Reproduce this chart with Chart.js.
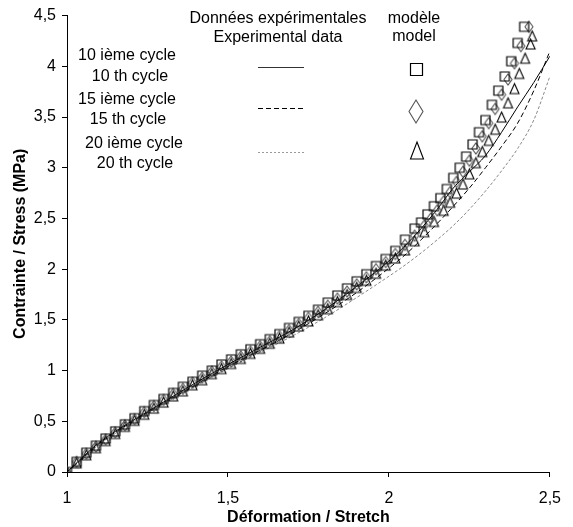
<!DOCTYPE html>
<html><head><meta charset="utf-8">
<script src="https://cdn.jsdelivr.net/npm/chart.js@4"></script>
<style>html,body{margin:0;padding:0;background:#fff}#wrap{width:573px;height:527px}</style>
</head><body><div id="wrap"><canvas id="c" width="573" height="527"></canvas></div>
<script>
// ---------- data ----------
const xTickLabels = ['1', '1,5', '2', '2,5'];
const yTickLabels = ['0', '0,5', '1', '1,5', '2', '2,5', '3', '3,5', '4', '4,5'];

const headerExp = ['Données expérimentales', 'Experimental data'];
const headerModel = ['modèle', 'model'];
const cycleLabelsFr = ['10 ième cycle', '15 ième cycle', '20 ième cycle'];
const cycleLabelsEn = ['10 th cycle', '15 th cycle', '20 th cycle'];

// model, 10th cycle (squares)
const model10X = [1.00,1.03,1.06,1.09,1.12,1.15,1.18,1.21,1.24,1.27,1.30,1.33,1.36,1.39,1.42,1.45,1.48,1.51,1.54,1.57,1.60,1.63,1.66,1.69,1.72,1.75,1.78,1.81,1.84,1.87,1.90,1.93,1.96,1.99,2.02,2.05,2.08,2.10,2.12,2.14,2.16,2.18,2.20,2.22,2.24,2.26,2.28,2.30,2.32,2.34,2.36,2.38,2.40,2.42];
const model10Y = [0.00,0.10,0.19,0.26,0.33,0.40,0.47,0.53,0.60,0.66,0.72,0.78,0.84,0.89,0.95,1.00,1.06,1.11,1.16,1.21,1.26,1.31,1.36,1.42,1.48,1.54,1.60,1.67,1.74,1.81,1.88,1.95,2.03,2.10,2.18,2.29,2.40,2.46,2.54,2.62,2.70,2.79,2.90,3.00,3.11,3.23,3.35,3.47,3.62,3.76,3.90,4.05,4.23,4.39];

// model, 15th cycle (diamonds)
const model15X = [1.00,1.03,1.06,1.09,1.12,1.15,1.18,1.21,1.24,1.27,1.30,1.33,1.36,1.39,1.42,1.45,1.48,1.51,1.54,1.57,1.60,1.63,1.66,1.69,1.72,1.75,1.78,1.81,1.84,1.87,1.90,1.93,1.96,1.99,2.02,2.05,2.08,2.11,2.13,2.15,2.17,2.19,2.21,2.23,2.25,2.27,2.29,2.31,2.33,2.35,2.37,2.39,2.41,2.435];
const model15Y = [0.00,0.10,0.18,0.25,0.32,0.39,0.46,0.52,0.59,0.65,0.71,0.77,0.82,0.88,0.93,0.99,1.04,1.09,1.14,1.19,1.24,1.29,1.34,1.40,1.46,1.52,1.58,1.64,1.71,1.78,1.85,1.92,2.00,2.07,2.15,2.24,2.33,2.43,2.50,2.58,2.67,2.76,2.86,2.96,3.07,3.19,3.31,3.44,3.58,3.72,3.87,4.03,4.20,4.39];

// model, 20th cycle (triangles)
const model20X = [1.00,1.03,1.06,1.09,1.12,1.15,1.18,1.21,1.24,1.27,1.30,1.33,1.36,1.39,1.42,1.45,1.48,1.51,1.54,1.57,1.60,1.63,1.66,1.69,1.72,1.75,1.78,1.81,1.84,1.87,1.90,1.93,1.96,1.99,2.02,2.05,2.08,2.11,2.14,2.17,2.19,2.21,2.23,2.25,2.27,2.29,2.31,2.33,2.35,2.37,2.39,2.405,2.423,2.44,2.445];
const model20Y = [0.00,0.09,0.17,0.24,0.31,0.38,0.45,0.51,0.57,0.63,0.69,0.75,0.80,0.86,0.91,0.97,1.02,1.07,1.12,1.17,1.22,1.27,1.32,1.38,1.44,1.49,1.55,1.61,1.68,1.75,1.82,1.89,1.96,2.04,2.11,2.19,2.28,2.37,2.47,2.58,2.66,2.75,2.84,2.94,3.05,3.16,3.27,3.38,3.50,3.64,3.78,3.93,4.08,4.22,4.30];

// experimental curves
const expX   = [1.00,1.05,1.10,1.15,1.20,1.30,1.40,1.50,1.60,1.70,1.80,1.90,2.00,2.05,2.10,2.15,2.20,2.25,2.30,2.35,2.40,2.45,2.50];
const exp10Y = [0.00,0.15,0.29,0.40,0.50,0.69,0.88,1.06,1.23,1.40,1.60,1.83,2.08,2.23,2.40,2.59,2.80,2.96,3.12,3.35,3.60,3.84,4.10];
const exp15Y = [0.00,0.14,0.28,0.39,0.49,0.68,0.86,1.04,1.20,1.37,1.56,1.77,2.01,2.14,2.29,2.45,2.62,2.80,3.00,3.21,3.44,3.76,4.15];
const exp20Y = [0.00,0.13,0.27,0.38,0.48,0.67,0.85,1.02,1.18,1.34,1.52,1.72,1.93,2.04,2.16,2.29,2.43,2.59,2.77,2.97,3.19,3.47,3.90];

// ---------- helpers ----------
const pts = (xs, ys) => xs.map((x, i) => ({x, y: ys[i]}));
const FONT = '"Liberation Sans", Arial, sans-serif';

function drawShape(g, kind, cx, cy, w, h) {
  g.beginPath();
  if (kind === 'square') {
    g.rect(cx - w / 2, cy - h / 2, w, h);
  } else if (kind === 'diamond') {
    g.moveTo(cx, cy - h / 2); g.lineTo(cx + w / 2, cy); g.lineTo(cx, cy + h / 2); g.lineTo(cx - w / 2, cy); g.closePath();
  } else {
    g.moveTo(cx, cy - h / 2); g.lineTo(cx + w / 2, cy + h / 2); g.lineTo(cx - w / 2, cy + h / 2); g.closePath();
  }
  g.stroke();
}
function markerCanvas(kind, w, h, color, lw) {
  const c = document.createElement('canvas');
  c.width = w + 4; c.height = h + 4;
  const g = c.getContext('2d');
  g.strokeStyle = color; g.lineWidth = lw;
  drawShape(g, kind, c.width / 2, c.height / 2, w, h);
  return c;
}
const sqM = markerCanvas('square', 9, 9, '#000', 1.2);
const diM = markerCanvas('diamond', 8, 11, '#555', 1.1);
const trM = markerCanvas('triangle', 9, 10, '#000', 1.1);

const legendPlugin = {
  id: 'manualLegend',
  afterDraw(chart) {
    const ctx = chart.ctx;
    ctx.save();
    ctx.fillStyle = '#000';
    ctx.font = '16px ' + FONT;
    ctx.textAlign = 'center';
    ctx.textBaseline = 'alphabetic';
    ctx.fillText(headerExp[0], 278, 23);
    ctx.fillText(headerExp[1], 278, 42);
    ctx.fillText(headerModel[0], 414, 23);
    ctx.fillText(headerModel[1], 414, 41);
    const frPos = [[127, 60], [127, 104], [134, 148]];
    const enPos = [[130, 81], [128, 124], [135, 168]];
    cycleLabelsFr.forEach((t, i) => ctx.fillText(t, frPos[i][0], frPos[i][1]));
    cycleLabelsEn.forEach((t, i) => ctx.fillText(t, enPos[i][0], enPos[i][1]));
    // line samples
    const lines = [[67.5, [], '#333'], [108.5, [5, 3], '#000'], [152.5, [2, 2], '#999']];
    lines.forEach(([y, dash, col]) => {
      ctx.beginPath(); ctx.setLineDash(dash); ctx.strokeStyle = col; ctx.lineWidth = 1;
      ctx.moveTo(258, y); ctx.lineTo(304, y); ctx.stroke();
    });
    ctx.setLineDash([]);
    ctx.strokeStyle = '#000'; ctx.lineWidth = 1.2;
    drawShape(ctx, 'square', 416.5, 69.5, 12, 12);
    ctx.strokeStyle = '#555'; ctx.lineWidth = 1.1;
    drawShape(ctx, 'diamond', 416, 111.5, 14, 23);
    ctx.strokeStyle = '#000';
    drawShape(ctx, 'triangle', 417, 150.5, 13, 17);
    ctx.restore();
  }
};

const markerDs = (label, data, style) => ({
  label, data, showLine: false, pointStyle: style, pointRadius: 5, pointHoverRadius: 5,
  borderColor: '#000', backgroundColor: 'rgba(0,0,0,0)'
});
const lineDs = (label, data, color, dash) => ({
  label, data, showLine: true, pointRadius: 0, borderColor: color, borderWidth: 1,
  borderDash: dash, cubicInterpolationMode: 'monotone', fill: false
});

new Chart(document.getElementById('c'), {
  type: 'scatter',
  data: {
    datasets: [
      markerDs('modèle 10', pts(model10X, model10Y), sqM),
      markerDs('modèle 15', pts(model15X, model15Y), diM),
      markerDs('modèle 20', pts(model20X, model20Y), trM),
      lineDs('exp 10', pts(expX, exp10Y), '#000', []),
      lineDs('exp 15', pts(expX, exp15Y), '#000', [5, 3]),
      lineDs('exp 20', pts(expX, exp20Y), '#888', [3, 2])
    ]
  },
  options: {
    responsive: false,
    animation: false,
    devicePixelRatio: 1,
    events: [],
    layout: { padding: { left: 0, right: 20, top: 15, bottom: 0 } },
    plugins: { legend: { display: false }, tooltip: { enabled: false } },
    scales: {
      x: {
        type: 'linear', min: 1, max: 2.5,
        afterFit: s => { s.height = 55; },
        afterBuildTicks: s => { s.ticks = xTickLabels.map((_, i) => ({ value: 1 + i * 0.5 })); },
        ticks: { color: '#000', font: { family: FONT, size: 16 }, padding: 12, maxRotation: 0,
                 callback: (v, i) => xTickLabels[i] },
        grid: { drawOnChartArea: false, drawTicks: true, tickLength: 5, color: '#000' },
        border: { display: true, color: '#000', width: 1 },
        title: { display: true, text: 'Déformation / Stretch', color: '#000',
                 font: { family: FONT, size: 16, weight: 'bold' }, padding: { top: 0, bottom: 0 } }
      },
      y: {
        type: 'linear', min: 0, max: 4.5,
        afterFit: s => { s.width = 67; },
        afterBuildTicks: s => { s.ticks = yTickLabels.map((_, i) => ({ value: i * 0.5 })); },
        ticks: { color: '#000', font: { family: FONT, size: 16 }, padding: 6,
                 callback: (v, i) => yTickLabels[i] },
        grid: { drawOnChartArea: false, drawTicks: true, tickLength: 5, color: '#000' },
        border: { display: true, color: '#000', width: 1 },
        title: { display: true, text: 'Contrainte / Stress (MPa)', color: '#000',
                 font: { family: FONT, size: 16, weight: 'bold' }, padding: { top: 11, bottom: 0 } }
      }
    }
  },
  plugins: [legendPlugin]
});
</script>
</body></html>
